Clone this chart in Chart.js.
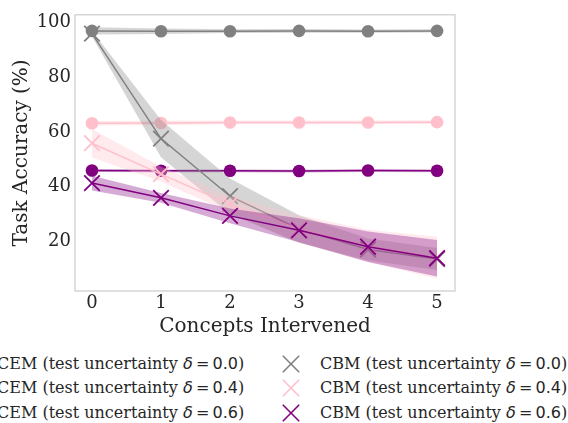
<!DOCTYPE html>
<html><head><meta charset="utf-8">
<script src="https://cdn.jsdelivr.net/npm/chart.js@4.4.1/dist/chart.umd.min.js"></script>
<style>
html,body{margin:0;padding:0;background:#fff;overflow:hidden;}
#wrap{position:relative;width:568px;height:423px;overflow:hidden;}
#c{position:absolute;left:0;top:0;}
.row{position:absolute;height:24px;line-height:24px;font-family:"DejaVu Serif";font-size:16px;color:#262626;white-space:nowrap;}
.m{font-family:"DejaVu Sans";}
.mk{position:absolute;}
</style></head><body>
<div id="wrap"><canvas id="c" width="568" height="340"></canvas><div id="legend"></div></div>
<script>
// ---- data ----
const concepts = [0, 1, 2, 3, 4, 5];
const yTicks = [20, 40, 60, 80, 100];
const cem00 = [97.0, 96.9, 96.9, 97.0, 96.9, 97.0];
const cem00Std = [1.3, 1.0, 0.7, 0.7, 0.6, 0.6];
const cem04 = [63.2, 63.3, 63.5, 63.5, 63.5, 63.6];
const cem04Std = [0.8, 0.8, 0.7, 0.7, 0.7, 0.7];
const cem06 = [45.9, 45.8, 45.8, 45.7, 45.9, 45.8];
const cem06Std = [0.5, 0.5, 0.5, 0.5, 0.5, 0.5];
const cbm00 = [96.0, 57.6, 36.5, 24.5, 17.0, 13.5];
const cbm00Std = [1.0, 6.8, 6.5, 5.0, 4.0, 4.0];
const cbm04 = [55.9, 44.6, 33.5, 24.5, 18.3, 14.0];
const cbm04Std = [5.2, 2.7, 3.0, 5.0, 5.9, 7.7];
const cbm06 = [41.3, 35.9, 29.3, 24.0, 18.0, 13.8];
const cbm06Std = [2.7, 1.8, 2.7, 4.4, 5.6, 6.7];
const labels = [
  'CEM (test uncertainty', 'CEM (test uncertainty', 'CEM (test uncertainty',
  'CBM (test uncertainty', 'CBM (test uncertainty', 'CBM (test uncertainty'
];
const deltas = ['0.0', '0.4', '0.6'];

const GRAY = [128,128,128], PINK = [255,192,203], PURPLE = [128,0,128];
const rgb = (c, a) => a === undefined ? `rgb(${c})` : `rgba(${c},${a})`;

const series = [
  {mean: cem00, std: cem00Std, color: GRAY, kind: 'cem'},
  {mean: cem04, std: cem04Std, color: PINK, kind: 'cem'},
  {mean: cem06, std: cem06Std, color: PURPLE, kind: 'cem'},
  {mean: cbm00, std: cbm00Std, color: GRAY, kind: 'cbm'},
  {mean: cbm04, std: cbm04Std, color: PINK, kind: 'cbm'},
  {mean: cbm06, std: cbm06Std, color: PURPLE, kind: 'cbm'}
];

const datasets = [];
let seq = 0;
const N = 100;
series.forEach(s => {
  const pts = arr => concepts.map((x, i) => ({x, y: arr[i]}));
  const up = s.mean.map((m, i) => m + s.std[i]);
  const lo = s.mean.map((m, i) => m - s.std[i]);
  datasets.push({data: pts(up), borderWidth: 0, pointRadius: 0, fill: false, order: N - (seq++), borderColor: 'rgba(0,0,0,0)'});
  datasets.push({data: pts(lo), borderWidth: 0, pointRadius: 0, fill: '-1', backgroundColor: rgb(s.color, 0.33), order: N - (seq++), borderColor: 'rgba(0,0,0,0)'});
  const d = {data: pts(s.mean), borderColor: rgb(s.color), borderWidth: 1.5, order: N - (seq++), fill: false};
  if (s.kind === 'cem') {
    Object.assign(d, {pointStyle: 'circle', pointRadius: 6.3, pointBackgroundColor: rgb(s.color), pointBorderWidth: 0});
  } else {
    Object.assign(d, {pointStyle: 'crossRot', pointRadius: 11, pointBorderColor: rgb(s.color), pointBorderWidth: 1.8});
  }
  datasets.push(d);
});

const frame = {
  id: 'frame',
  afterDraw(chart) {
    const {ctx, chartArea: a} = chart;
    ctx.save();
    ctx.strokeStyle = '#cccccc';
    ctx.lineWidth = 1.2;
    ctx.strokeRect(a.left, a.top, a.right - a.left, a.bottom - a.top);
    ctx.restore();
  }
};

const TXT = '#262626';
new Chart(document.getElementById('c'), {
  type: 'line',
  data: {datasets},
  plugins: [frame],
  options: {
    responsive: false,
    animation: false,
    layout: {padding: {top: 13, right: 113, left: 0, bottom: 0}},
    plugins: {legend: {display: false}, tooltip: {enabled: false}},
    scales: {
      x: {
        type: 'linear', min: -0.246, max: 5.26,
        grid: {display: false, drawTicks: false}, border: {display: false},
        afterBuildTicks: sc => { sc.ticks = concepts.map(v => ({value: v})); },
        afterFit: sc => { sc.height = 49; },
        ticks: {font: {family: 'DejaVu Serif', size: 18}, color: TXT, padding: 2, maxRotation: 0},
        title: {display: true, text: 'Concepts Intervened', font: {family: 'DejaVu Serif', size: 20, lineHeight: 1.2}, color: TXT, padding: {top: 0, bottom: 1}}
      },
      y: {
        type: 'linear', min: 1.8, max: 102.9,
        grid: {display: false, drawTicks: false}, border: {display: false},
        afterBuildTicks: sc => { sc.ticks = yTicks.map(v => ({value: v})); },
        afterFit: sc => { sc.width = 75; },
        ticks: {font: {family: 'DejaVu Serif', size: 18}, color: TXT, padding: 4},
        title: {display: true, text: 'Task Accuracy (%)', font: {family: 'DejaVu Serif', size: 20, lineHeight: 1.2}, color: TXT, padding: {top: 10, bottom: 0}}
      }
    }
  }
});

// ---- legend (HTML) ----
const leg = document.getElementById('legend');
const rowY = [363.5, 388, 412.5];
const colText = [-3, 320];
const cols = ['rgb(128,128,128)', 'rgb(255,192,203)', 'rgb(128,0,128)'];
labels.forEach((lab, i) => {
  const col = i < 3 ? 0 : 1;
  const r = i % 3;
  const cy = rowY[r];
  const tx = colText[col];
  const mx = tx - 29.3;
  const svg = document.createElementNS('http://www.w3.org/2000/svg', 'svg');
  svg.setAttribute('class', 'mk');
  svg.setAttribute('width', '24'); svg.setAttribute('height', '24');
  svg.style.left = (mx - 12) + 'px'; svg.style.top = (cy - 12) + 'px';
  if (col === 0) {
    svg.innerHTML = `<line x1="0" y1="12" x2="24" y2="12" stroke="${cols[r]}" stroke-width="1.5"/><circle cx="12" cy="12" r="6.3" fill="${cols[r]}"/>`;
  } else {
    svg.innerHTML = `<line x1="3.8" y1="3.8" x2="20.2" y2="20.2" stroke="${cols[r]}" stroke-width="1.6"/><line x1="3.8" y1="20.2" x2="20.2" y2="3.8" stroke="${cols[r]}" stroke-width="1.6"/>`;
  }
  leg.appendChild(svg);
  const div = document.createElement('div');
  div.className = 'row';
  div.style.left = tx + 'px';
  div.style.top = (cy - 12) + 'px';
  div.innerHTML = `${lab} <span class="m"><i>δ</i>&#8201;=&#8201;${deltas[r]}</span>)`;
  leg.appendChild(div);
});
</script>
</body></html>
